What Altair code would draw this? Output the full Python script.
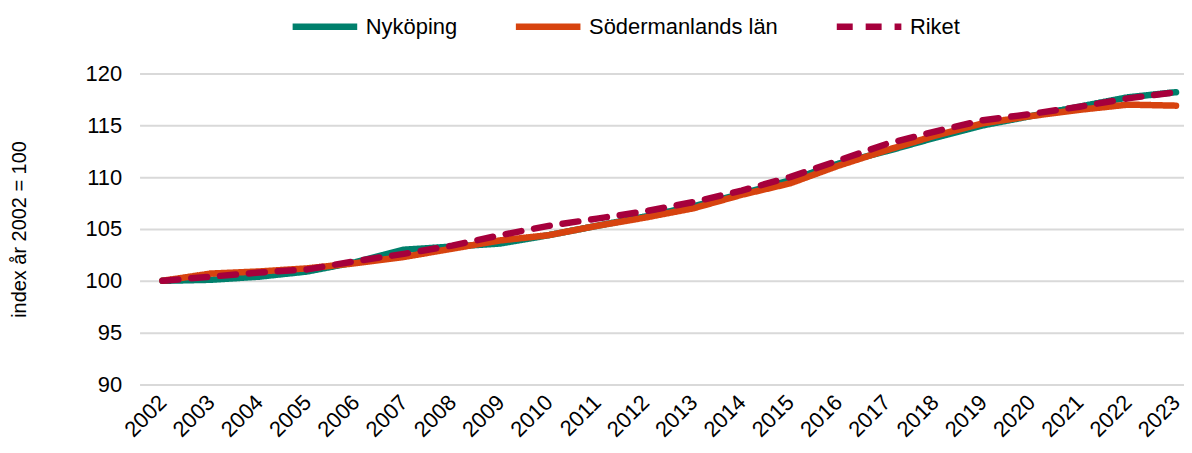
import altair as alt
import pandas as pd

years = list(range(2002, 2024))
nykoping = [100.0, 100.1, 100.4, 100.9, 101.8, 103.0, 103.3, 103.6, 104.4, 105.3, 106.2,
            107.2, 108.4, 109.7, 111.3, 112.5, 113.8, 115.0, 115.9, 116.8, 117.7, 118.2]
sodermanland = [100.0, 100.7, 100.9, 101.2, 101.7, 102.3, 103.1, 103.9, 104.4, 105.3, 106.1,
                107.0, 108.3, 109.4, 111.1, 112.6, 114.0, 115.2, 115.9, 116.5, 117.0, 116.9]
riket = [100.0, 100.4, 100.8, 101.1, 101.9, 102.6, 103.4, 104.4, 105.3, 106.0, 106.7,
         107.6, 108.7, 110.0, 111.6, 113.2, 114.4, 115.5, 116.1, 116.8, 117.6, 118.2]
series_names = ["Nyköping", "Södermanlands län", "Riket"]
series_colors = ["#00806c", "#d7430f", "#a6003c"]
y_ticks = [90, 95, 100, 105, 110, 115, 120]

rows = []
for name, vals in zip(series_names, [nykoping, sodermanland, riket]):
    for yr, v in zip(years, vals):
        rows.append({"year": yr, "value": v, "serie": name, "order": series_names.index(name)})
df = pd.DataFrame(rows)

FONT = "Liberation Sans"

chart = alt.Chart(df).mark_line(strokeWidth=6.5, strokeCap="round", strokeJoin="round").encode(
    x=alt.X("year:Q",
            scale=alt.Scale(domain=[2001.525, 2023.165], nice=False, zero=False),
            axis=alt.Axis(values=years, format="d", labelAngle=-45, labelAlign="right",
                          labelBaseline="middle", labelPadding=14, domain=False, ticks=False,
                          grid=False, title=None, labelFontSize=22, labelColor="#000000",
                          labelFont=FONT, labelOverlap=False)),
    y=alt.Y("value:Q",
            scale=alt.Scale(domain=[90, 120], nice=False, zero=False),
            axis=alt.Axis(values=y_ticks, domain=False, ticks=False, grid=True,
                          gridColor="#d9d9d9", gridWidth=2, labelFontSize=22,
                          labelColor="#000000", labelFont=FONT, labelPadding=18,
                          title="index år 2002 = 100", titleFont=FONT, titleFontSize=20,
                          titleFontWeight="normal", titleColor="#000000",
                          titleX=-120, titleY=156, titleAngle=-90, titleAlign="center",
                          titleBaseline="middle")),
    color=alt.Color("serie:N",
                    scale=alt.Scale(domain=series_names, range=series_colors),
                    legend=alt.Legend(title=None, orient="none", direction="horizontal",
                                      legendX=150, legendY=-83, symbolType="stroke",
                                      symbolStrokeWidth=6.5, symbolSize=4200,
                                      labelFontSize=22, labelFont=FONT, labelColor="#000000",
                                      labelLimit=0, columnPadding=45, labelOffset=5)),
    strokeDash=alt.StrokeDash("serie:N",
                              scale=alt.Scale(domain=series_names, range=[[1, 0], [1, 0], [16, 13]]),
                              legend=None),
    order=alt.Order("order:Q"),
).properties(
    width=1048, height=312,
    autosize=alt.AutoSizeParams(type="none"),
    padding={"left": 132, "top": 65, "right": 0, "bottom": 62},
).configure_view(stroke=None)

chart.save("out.html", embed_options={"renderer": "svg", "actions": False})
